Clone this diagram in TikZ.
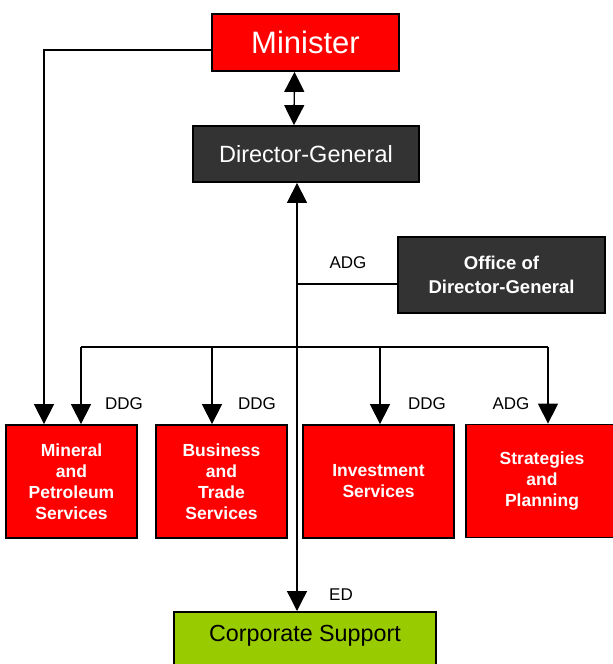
\documentclass[tikz,border=0pt]{standalone}
\usepackage{fontspec}
\setmainfont{Liberation Sans}
\usepackage{xcolor}
\usetikzlibrary{arrows.meta,positioning}

\definecolor{orgred}{HTML}{FF0000}
\definecolor{orggrey}{HTML}{333333}
\definecolor{orggreen}{HTML}{99CC00}

\begin{document}
\begin{tikzpicture}[x=1pt,y=-1pt]
\useasboundingbox (0,0) rectangle (613,664);
\clip (0,0) rectangle (613,664);

\tikzstyle{every path}=[line width=1.4pt]
\tikzstyle{unit}=[draw=black,line width=1.8pt,align=center,inner sep=0pt]
\tikzstyle{redunit}=[unit,fill=orgred,text=white,font=\bfseries\fontsize{17.5}{21}\selectfont]
\tikzstyle{greyunit}=[unit,fill=orggrey,text=white]
\tikzstyle{tag}=[font=\fontsize{17}{20}\selectfont]
\tikzstyle{link}=[-{Triangle[width=20pt,length=20pt]}]

%% Top of the chart
\node (min) [unit,fill=orgred,text=white,minimum width=187pt,minimum height=57pt,
    font=\fontsize{31}{34}\selectfont] at (305.5,42.5) {Minister};
\node (dg) [greyunit,minimum width=226pt,minimum height=56pt,
    font=\fontsize{23.5}{26}\selectfont] at (306,154) {Director-General};
\node (odg) [greyunit,minimum width=207pt,minimum height=76pt,
    font=\bfseries\fontsize{18.5}{24}\selectfont] at (501.5,275) {Office of\\Director-General};

%% Divisions
\begin{scope}[every node/.append style={minimum height=113pt}]
    \node (mps) [redunit,minimum width=131pt] at (71.5,481.5) {Mineral\\and\\Petroleum\\Services};
    \node (bts) [redunit,minimum width=131pt] at (221.5,481.5) {Business\\and\\Trade\\Services};
    \node (inv) [redunit,minimum width=151pt] at (378.5,481.5) {Investment\\Services};
    \node (stp) [redunit,minimum width=152pt] at (542,481) {Strategies\\and\\Planning};
\end{scope}
\node (corp) [unit,fill=orggreen,text=black,minimum width=262pt,minimum height=62pt,
    anchor=north] at (305,611) {};
\node (corptxt) at (305,636) {\fontsize{23.3}{26}\selectfont Corporate Support};

%% Lines
\coordinate (spine) at (297,0);
\coordinate (mleft) at (44,50);
\coordinate (odgin) at (0,284);
\draw [{Triangle[width=20pt,length=20pt]}-{Triangle[width=20pt,length=20pt]}]
    ([xshift=-11pt]min.south) -- ([xshift=-12pt]dg.north);
\draw [{Triangle[width=20pt,length=20pt]}-{Triangle[width=20pt,length=20pt]}]
    (corp.north -| spine) -- (dg.south -| spine);
\draw (odg.west |- odgin) -- (spine |- odgin);
\draw [link] (min.west |- mleft) -- (mleft) -- (mleft |- mps.north);

\coordinate (d1) at (81,347);
\coordinate (d2) at (212,347);
\coordinate (d3) at (380,347);
\coordinate (d4) at (548,347);
\draw (d1) -- (d4);
\draw [link] (d1) -- (d1 |- mps.north);
\draw [link] (d2) -- (d2 |- bts.north);
\draw [link] (d3) -- (d3 |- inv.north);
\draw [link] (d4) -- (d4 |- stp.north);

%% Labels
\node (t0) [tag] at (348,263) {ADG};
\node (t1) [tag] at (124,404) {DDG};
\node (t2) [tag] at (257,404) {DDG};
\node (t3) [tag] at (427,404) {DDG};
\node (t4) [tag] at (511,404) {ADG};
\node (t5) [tag] at (341,595) {ED};
\end{tikzpicture}
\end{document}
